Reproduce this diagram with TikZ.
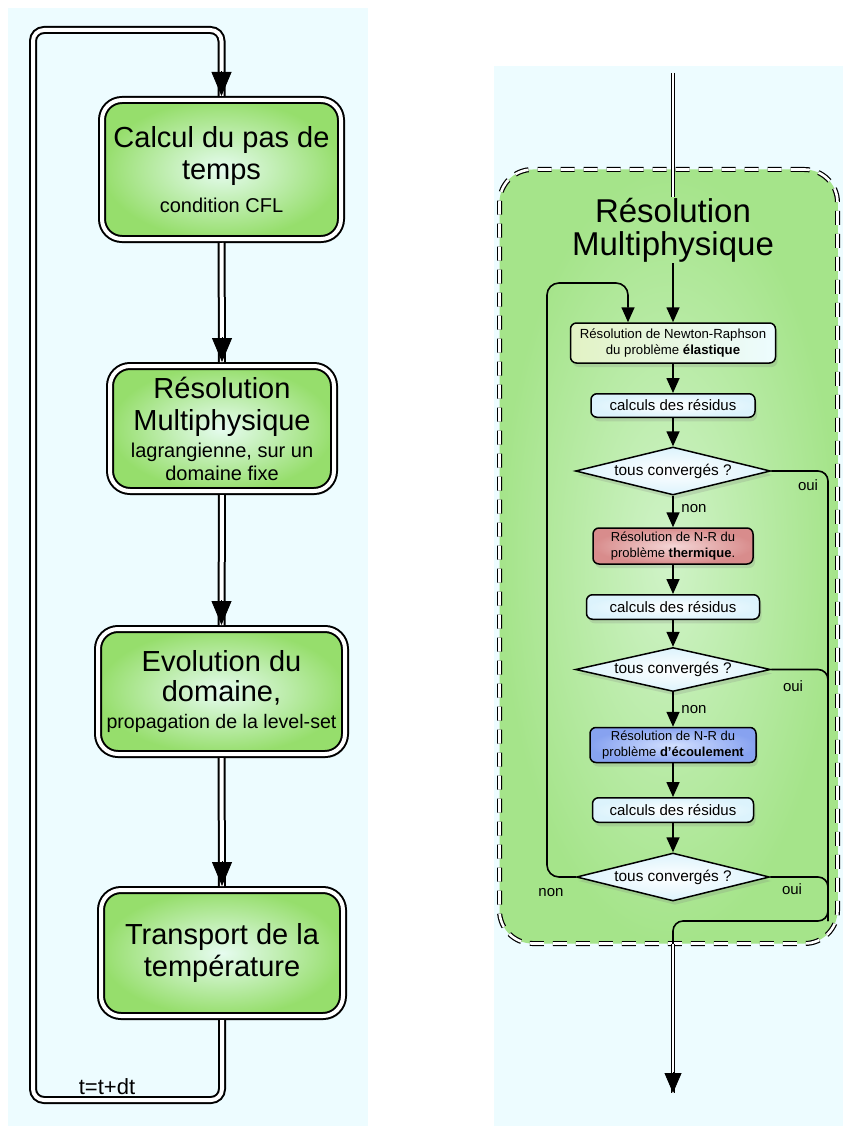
\documentclass[tikz,border=0pt]{standalone}
\usepackage{fontspec}
\setmainfont{Liberation Sans}
\usetikzlibrary{arrows.meta,shapes.geometric,shadows}

\definecolor{fondpanneau}{RGB}{237,252,255}
\definecolor{vertboite}{RGB}{150,222,108}
\definecolor{vertclair}{RGB}{230,252,240}
\definecolor{vertcadre}{RGB}{165,228,138}
\definecolor{vertcadreclair}{RGB}{208,243,200}
\definecolor{rougeboite}{RGB}{216,140,140}
\definecolor{rougeclair}{RGB}{244,214,214}
\definecolor{bleuboite}{RGB}{135,162,240}
\definecolor{bleuclair}{RGB}{210,224,255}
\definecolor{cyanclair}{RGB}{220,243,252}
\definecolor{jauneclair}{RGB}{226,242,196}

\tikzset{
  ombre/.style={drop shadow={shadow xshift=2pt,shadow yshift=-4pt,opacity=0.22}},
  etape/.style={draw, double=white, double distance=4pt, line width=2pt,
    rounded corners=20pt, inner color=vertclair, outer color=vertboite,
    align=center, inner sep=2pt, outer sep=4pt, ombre,
    font=\fontsize{29}{32}\selectfont},
  tube/.style={draw, double=white, double distance=4pt, line width=2pt},
  pointe/.style={-{Triangle[length=24pt,width=20pt]}, line width=0.8pt},
  zone/.style={draw, double=white, double distance=2.6pt, line width=1.2pt,
    dash pattern=on 14pt off 9pt, rounded corners=33pt,
    inner color=vertcadreclair, outer color=vertcadre},
  boite/.style={draw, line width=1.5pt, rounded corners=6pt, align=center,
    inner sep=2pt, ombre, font=\fontsize{13.2}{16}\selectfont},
  calc/.style={boite, inner color=white, outer color=cyanclair,
    font=\fontsize{15}{18}\selectfont},
  test/.style={diamond, draw, line width=1.5pt, aspect=4, inner sep=0pt,
    inner color=white, outer color=cyanclair, ombre,
    font=\fontsize{15.4}{18}\selectfont},
  etiq/.style={font=\fontsize{15}{18}\selectfont, inner sep=0pt},
  fleche/.style={-{Triangle[length=15pt,width=13pt]}, line width=1.6pt},
  trait/.style={line width=1.6pt, rounded corners=10pt},
  tubefin/.style={draw, double=white, double distance=2.4pt, line width=1.2pt},
  pointefin/.style={-{Triangle[length=20pt,width=17pt]}, line width=0.8pt}
}

\begin{document}
\begin{tikzpicture}[x=1pt,y=-1pt]
\useasboundingbox (0,0) rectangle (843,1126);
\fill[fondpanneau] (8,8) rectangle (368,1126);
\fill[fondpanneau] (494,66) rectangle (843,1126);

% boucle en temps
\node[etape, minimum width=239pt, minimum height=139pt] (pas) at (221.5,169.5)
  {Calcul du pas de\\temps\\[1pt]{\fontsize{20}{23}\selectfont condition CFL}};
\node[etape, minimum width=224pt, minimum height=125pt] (resol) at (222,428.5)
  {R\'esolution\\Multiphysique\\[-5pt]{\fontsize{20}{23}\selectfont lagrangienne, sur un}\\[-9pt]{\fontsize{20}{23}\selectfont domaine fixe}};
\node[etape, minimum width=247pt, minimum height=125pt] (evol) at (221.5,691.5)
  {Evolution du\\[-2pt]domaine,\\[-5pt]{\fontsize{19.6}{23}\selectfont propagation de la level-set}};
\node[etape, minimum width=242pt, minimum height=126pt] (transp) at (222,953)
  {Transport de la\\temp\'erature};

\coordinate (coinbas) at (33,1100);
\coordinate (coinhaut) at (33,30);
\node[font=\fontsize{22}{26}\selectfont, inner sep=0pt] (pasdt) at (107,1087) {t=t+dt};

\draw[tube] (pas) -- (resol);
\draw[pointe] ([yshift=25pt]resol.north) -- (resol.north);
\draw[tube] (resol) -- (evol);
\draw[pointe] ([yshift=25pt]evol.north) -- (evol.north);
\draw[tube] (evol) -- (transp);
\draw[pointe] ([yshift=25pt]transp.north) -- (transp.north);
\draw[tube, rounded corners=11pt] (transp.south) |- (coinbas) -- (coinhaut) -| (pas.north);
\draw[pointe] ([yshift=25pt]pas.north) -- (pas.north);

% resolution multiphysique
\node[zone, minimum width=338pt, minimum height=774pt] (cadre) at (668.5,556.5) {};
\node[font=\fontsize{33}{33}\selectfont, align=center, inner sep=1pt] (titre) at (673,230)
  {R\'esolution\\Multiphysique};

\node[boite, left color=jauneclair, right color=fondpanneau, minimum width=205pt, minimum height=40pt] (nr) at (673,343)
  {R\'esolution de Newton-Raphson\\du probl\`eme \textbf{\'elastique}};
\node[calc, minimum width=164pt, minimum height=23.5pt] (calc1) at (673,405.5) {calculs des r\'esidus};
\node[test, minimum width=195pt, minimum height=48pt] (conv1) at (673,471) {tous converg\'es ?};
\node[boite, inner color=rougeclair, outer color=rougeboite, minimum width=160pt, minimum height=36pt,
  font=\fontsize{13}{16}\selectfont] (therm) at (673,546)
  {R\'esolution de N-R du\\probl\`eme \textbf{thermique}.};
\node[calc, minimum width=173pt, minimum height=24.5pt] (calc2) at (673,607) {calculs des r\'esidus};
\node[test, minimum width=195pt, minimum height=44pt] (conv2) at (673,669.5) {tous converg\'es ?};
\node[boite, inner color=bleuclair, outer color=bleuboite, minimum width=166pt, minimum height=35pt,
  font=\fontsize{13}{16}\selectfont] (ecoul) at (673,745)
  {R\'esolution de N-R du\\probl\`eme \textbf{d'\'ecoulement}};
\node[calc, minimum width=161pt, minimum height=24.5pt] (calc3) at (673,810) {calculs des r\'esidus};
\node[test, minimum width=193pt, minimum height=48pt] (conv3) at (673,877) {tous converg\'es ?};

\node[etiq] (non1) at (694,509) {non};
\node[etiq] (non2) at (694,710) {non};
\node[etiq] (non3) at (551,893) {non};
\node[etiq] (oui1) at (808,485) {oui};
\node[etiq] (oui2) at (793,686) {oui};
\node[etiq] (oui3) at (792,889) {oui};

\coordinate (entree) at (673,73);
\coordinate (sortie) at (673,1093);
\coordinate (boucle) at (547,283);
\coordinate (ouiA) at (828,921);
\coordinate (jonction) at (673,921);

\draw[tubefin] (entree) -- (titre.north);
\draw[fleche] (titre.south) -- (nr.north);
\draw[fleche] (nr) -- (calc1);
\draw[fleche] (calc1) -- (conv1);
\draw[fleche] (conv1) -- (therm);
\draw[fleche] (therm) -- (calc2);
\draw[fleche] (calc2) -- (conv2);
\draw[fleche] (conv2) -- (ecoul);
\draw[fleche] (ecoul) -- (calc3);
\draw[fleche] (calc3) -- (conv3);
\draw[fleche, rounded corners=12pt] (conv3.west) -| (boucle) -| ([xshift=-45pt]nr.north);
\draw[trait] (conv1.east) -| (ouiA) -- (jonction) -- (jonction |- cadre.south);
\draw[trait] (conv2.east) -| (ouiA);
\draw[trait] (conv3.east) -| (ouiA);
\draw[tubefin] (jonction |- cadre.south) -- (sortie);
\draw[pointefin] ([yshift=21pt]sortie) -- (sortie);
\end{tikzpicture}
\end{document}
